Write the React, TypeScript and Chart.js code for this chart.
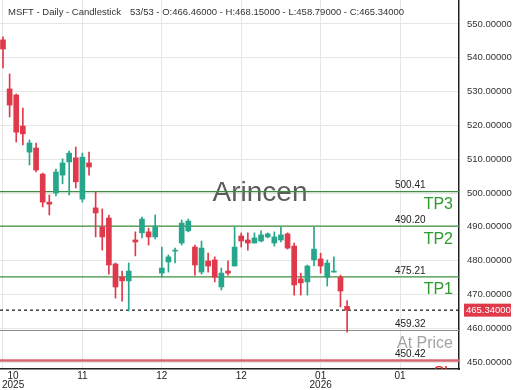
import React, { useEffect, useRef } from 'react';
import { Chart, registerables } from 'chart.js';

Chart.register(...registerables);

// ---- data ----
const opens = [
  545.3, 530.8, 529.0, 519.8, 512.1, 513.3, 505.6, 497.3, 500.0, 505.3,
  509.2, 510.4, 498.2, 508.9, 495.6, 489.9, 492.6, 479.0, 475.1, 474.0,
  486.1, 488.2, 488.5, 487.0, 476.3, 479.6, 482.8, 485.2, 488.8, 484.0,
  476.6, 479.9, 480.2, 472.2, 476.9, 478.4, 487.3, 486.1, 485.2, 485.8,
  487.0, 485.2, 486.1, 487.9, 484.3, 474.6, 473.7, 480.2, 480.5, 475.1,
  476.6, 475.1, 466.46,
];
const highs = [
  546.2, 535.2, 529.3, 525.1, 515.7, 514.8, 505.9, 499.4, 507.1, 510.1,
  512.4, 513.6, 511.8, 512.1, 500.3, 495.3, 493.5, 479.3, 476.9, 479.3,
  488.5, 492.9, 489.6, 493.5, 484.0, 481.7, 483.7, 492.0, 492.3, 484.6,
  485.8, 482.2, 481.1, 477.8, 479.9, 489.9, 488.2, 488.2, 488.2, 488.8,
  488.2, 488.5, 489.9, 488.2, 485.2, 476.3, 478.7, 489.9, 482.2, 480.2,
  481.1, 475.7, 468.15,
];
const lows = [
  537.0, 522.5, 515.1, 514.2, 508.3, 506.2, 495.9, 493.5, 499.1, 502.7,
  499.4, 501.5, 497.3, 505.3, 487.0, 483.1, 476.0, 468.9, 468.0, 465.1,
  481.4, 486.7, 484.6, 486.4, 475.1, 476.6, 479.3, 484.6, 488.5, 475.7,
  476.0, 476.6, 473.7, 471.3, 475.7, 478.4, 484.0, 483.1, 485.2, 485.5,
  486.7, 484.3, 485.5, 483.4, 469.8, 469.8, 469.8, 478.4, 476.3, 472.5,
  476.6, 466.3, 458.79,
];
const closes = [
  542.6, 526.0, 518.0, 517.5, 514.8, 506.8, 497.3, 496.7, 506.2, 508.9,
  511.8, 503.3, 510.6, 507.7, 494.1, 487.0, 478.7, 472.2, 474.0, 476.9,
  485.5, 492.3, 487.0, 490.2, 477.8, 481.1, 483.1, 491.1, 491.7, 478.7,
  483.7, 478.4, 475.1, 476.3, 476.3, 484.0, 485.8, 485.2, 486.7, 487.6,
  487.9, 487.0, 487.6, 483.7, 472.8, 473.4, 478.4, 483.4, 478.4, 479.3,
  476.9, 471.0, 465.34,
];

const xTickValues = [0, 12, 24, 36, 48, 60];
const xTickLabels = [['10', '2025'], ['11'], ['12'], ['12'], ['01', '2026'], ['01']];

const levelValues = [500.41, 490.2, 475.21, 459.32, 450.42];
const levelNames = ['TP3', 'TP2', 'TP1', 'At Price', 'SL'];
const levelLineColors = ['#3f8f3f', '#3f8f3f', '#3f8f3f', '#8c8c8c', '#d4676b'];
const levelLineWidths = [1.2, 1.2, 1.2, 1, 2.5];
const levelTextColors = ['#2e9b2e', '#2e9b2e', '#2e9b2e', '#a3a3a3', '#e02424'];

const symbol = 'MSFT';
const period = 'Daily';
const chartKind = 'Candlestick';
const watermark = 'Arincen';

const GREEN = '#26a68a';
const RED = '#e0394b';
const FONT = '"Liberation Sans", Arial, sans-serif';
const SMALL = 9.5;

const isUp = (i: number) => closes[i] >= opens[i];

const overlayPlugin = {
  id: 'overlay',
  beforeDatasetsDraw(chart: any) {
    const { ctx, chartArea, scales } = chart;
    const y = scales.y;
    ctx.save();
    ctx.beginPath();
    ctx.rect(chartArea.left, chartArea.top, chartArea.right - chartArea.left, chartArea.bottom - chartArea.top);
    ctx.clip();

    // watermark
    ctx.font = `28px ${FONT}`;
    ctx.fillStyle = '#5c5c5c';
    ctx.textAlign = 'center';
    ctx.textBaseline = 'middle';
    ctx.fillText(watermark, chart.width / 2, chart.height / 2 - 2);

    // level lines
    levelValues.forEach((v, i) => {
      const py = y.getPixelForValue(v);
      ctx.strokeStyle = levelLineColors[i];
      ctx.lineWidth = levelLineWidths[i];
      ctx.setLineDash([]);
      ctx.beginPath();
      ctx.moveTo(chartArea.left, py);
      ctx.lineTo(chartArea.right, py);
      ctx.stroke();

      ctx.font = `10px ${FONT}`;
      ctx.fillStyle = '#222';
      ctx.textAlign = 'left';
      ctx.textBaseline = 'middle';
      ctx.fillText(v.toFixed(2), chartArea.right - 64, py - 6);

      ctx.font = `16px ${FONT}`;
      ctx.fillStyle = levelTextColors[i];
      ctx.textAlign = 'right';
      ctx.fillText(levelNames[i], chartArea.right - 6, py + 13);
    });

    // current price dashed line
    const last = closes.length - 1;
    const pp = y.getPixelForValue(closes[last]);
    ctx.strokeStyle = '#111';
    ctx.lineWidth = 1.2;
    ctx.setLineDash([3, 3]);
    ctx.beginPath();
    ctx.moveTo(chartArea.left, pp);
    ctx.lineTo(chartArea.right, pp);
    ctx.stroke();
    ctx.restore();
  },
  afterDraw(chart: any) {
    const { ctx, chartArea, scales } = chart;
    const x = scales.x;
    const y = scales.y;
    const last = closes.length - 1;
    ctx.save();

    // price box on axis
    const pp = y.getPixelForValue(closes[last]);
    ctx.fillStyle = RED;
    ctx.fillRect(chartArea.right + 5, pp - 6.5, 47, 13);
    ctx.fillStyle = '#fff';
    ctx.font = `${SMALL}px ${FONT}`;
    ctx.textAlign = 'left';
    ctx.textBaseline = 'middle';
    ctx.fillText(closes[last].toFixed(5), chartArea.right + 7, pp + 0.5);

    // x tick labels
    ctx.fillStyle = '#222';
    ctx.font = `10px ${FONT}`;
    ctx.textAlign = 'center';
    ctx.textBaseline = 'middle';
    xTickValues.forEach((v, i) => {
      const lines = xTickLabels[i];
      const px = x.getPixelForValue(v);
      let maxW = 0;
      lines.forEach((l) => { maxW = Math.max(maxW, ctx.measureText(l).width); });
      const cx = Math.max(px, chartArea.left + 2 + maxW / 2);
      lines.forEach((l, k) => {
        ctx.fillText(l, cx, chartArea.bottom + 7 + k * 9.5);
      });
    });

    // title
    ctx.fillStyle = '#333';
    ctx.textAlign = 'left';
    ctx.textBaseline = 'middle';
    ctx.font = `${SMALL}px ${FONT}`;
    const left = `${symbol} - ${period} - ${chartKind}`;
    ctx.fillText(left, 8, 12.5);
    const w = ctx.measureText(left).width;
    const right = `${closes.length}/${closes.length} - O:${opens[last].toFixed(5)} - H:${highs[last].toFixed(5)} - L:${lows[last].toFixed(5)} - C:${closes[last].toFixed(5)}`;
    ctx.fillText(right, 8 + w + 9, 12.5);
    ctx.restore();
  },
};

export default function App() {
  const ref = useRef<HTMLCanvasElement | null>(null);

  useEffect(() => {
    document.body.style.margin = '0';
    const canvas = ref.current;
    if (!canvas) return;
    Chart.defaults.font.family = FONT;

    const wickData = lows.map((l, i) => ({ x: i, y: [l, highs[i]] }));
    const bodyData = opens.map((o, i) => ({ x: i, y: [o, closes[i]] }));

    const chart = new Chart(canvas, {
      type: 'bar',
      data: {
        datasets: [
          {
            data: wickData as any,
            backgroundColor: (c: any) => (isUp(c.dataIndex) ? GREEN : RED),
            barThickness: 1,
            grouped: false,
            borderWidth: 0,
            order: 2,
          } as any,
          {
            data: bodyData as any,
            backgroundColor: (c: any) => (isUp(c.dataIndex) ? GREEN : RED),
            barThickness: 5,
            grouped: false,
            borderWidth: 0,
            minBarLength: 1,
            order: 1,
          } as any,
        ],
      },
      options: {
        animation: false,
        responsive: false,
        layout: { padding: 0 },
        plugins: { legend: { display: false }, tooltip: { enabled: false } },
        scales: {
          x: {
            type: 'linear',
            min: -0.453,
            max: 68.91,
            offset: false,
            ticks: { stepSize: 12, display: false, includeBounds: false },
            grid: { color: '#e6e6e6', drawTicks: false, offset: false },
            border: { color: '#222', width: 1.5 },
            afterFit: (s: any) => {
              s.height = 21;
              s.paddingLeft = 0;
              s.paddingRight = 0;
            },
          },
          y: {
            position: 'right',
            min: 447.93,
            max: 557.1,
            ticks: {
              stepSize: 10,
              includeBounds: false,
              callback: (v: any) => Number(v).toFixed(5),
              font: { size: SMALL },
              color: '#333',
              padding: 8,
            },
            grid: { color: '#e6e6e6', drawTicks: false },
            border: { color: '#222', width: 1.5 },
            afterFit: (s: any) => {
              s.width = 61;
              s.paddingTop = 0;
              s.paddingBottom = 0;
            },
          },
        },
      } as any,
      plugins: [overlayPlugin],
    });
    return () => chart.destroy();
  }, []);

  return (
    <div style={{ width: 520, height: 390 }}>
      <canvas ref={ref} width={520} height={390} style={{ display: 'block' }} />
    </div>
  );
}
